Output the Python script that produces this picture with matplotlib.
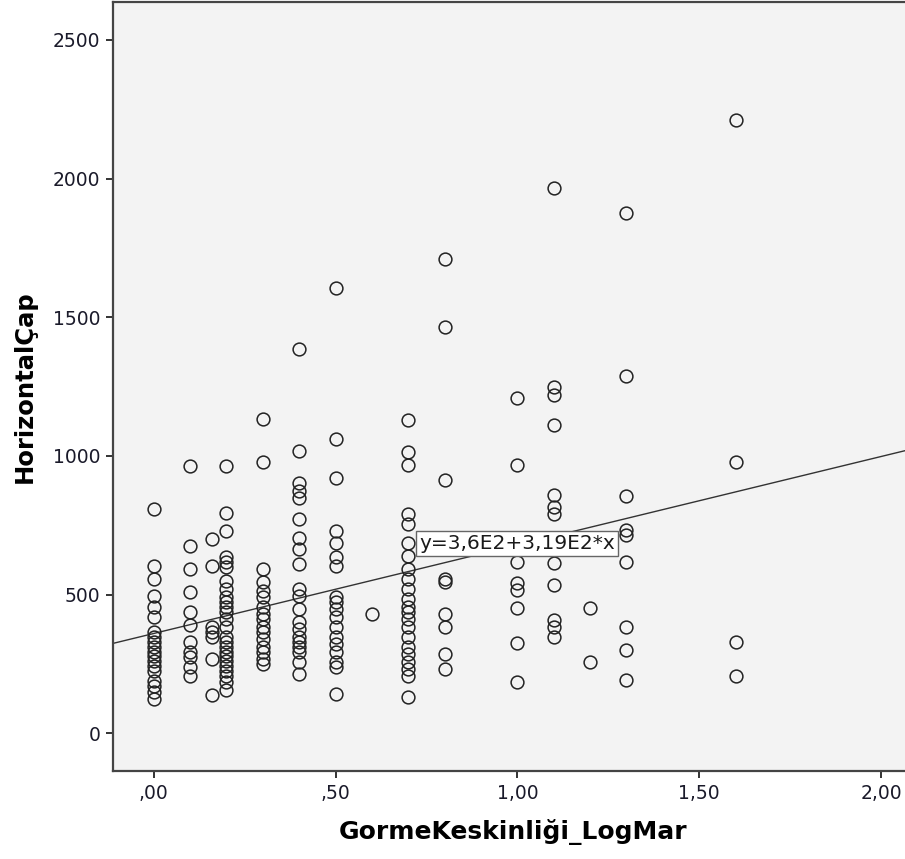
import numpy as np
import matplotlib.pyplot as plt

# HorizontalÇap values grouped by GormeKeskinliği_LogMar level
logmar_00 = [810, 602, 558, 494, 457, 421, 367, 349, 331, 313, 295, 277, 259, 241, 223, 187, 169, 148, 122]
logmar_10 = [965, 674, 591, 508, 436, 389, 328, 292, 274, 238, 205]
logmar_16 = [702, 602, 385, 367, 349, 267, 137]
logmar_20 = [963, 796, 731, 634, 616, 598, 548, 519, 490, 472, 454, 436, 411, 382, 349, 331, 313,
             295, 277, 259, 241, 223, 205, 184, 158]
logmar_30 = [1135, 980, 591, 544, 512, 490, 457, 429, 411, 385, 364, 339, 313, 292, 267, 249]
logmar_40 = [1387, 1019, 904, 872, 850, 771, 706, 663, 609, 519, 494, 447, 400, 375, 349, 331, 313,
             292, 256, 213]
logmar_50 = [1607, 1063, 922, 728, 688, 634, 602, 490, 472, 447, 421, 385, 349, 321, 292, 256, 238, 140]
logmar_60 = [429]
logmar_70 = [1128, 1016, 969, 789, 753, 688, 638, 591, 555, 519, 483, 457, 436, 411, 385, 349, 313,
             285, 256, 231, 205, 130]
logmar_80 = [1711, 1466, 915, 555, 544, 429, 382, 285, 231]
logmar_100 = [1210, 968, 619, 541, 517, 451, 327, 186]
logmar_110 = [1967, 1249, 1220, 1112, 859, 816, 792, 613, 535, 409, 385, 349]
logmar_120 = [451, 258]
logmar_130 = [1877, 1288, 856, 733, 715, 618, 384, 300, 192]
logmar_160 = [2212, 977, 328, 207]

levels = [0.0, 0.1, 0.16, 0.2, 0.3, 0.4, 0.5, 0.6, 0.7, 0.8, 1.0, 1.1, 1.2, 1.3, 1.6]
groups = [logmar_00, logmar_10, logmar_16, logmar_20, logmar_30, logmar_40, logmar_50, logmar_60,
          logmar_70, logmar_80, logmar_100, logmar_110, logmar_120, logmar_130, logmar_160]

# fit line y = 3,6E2 + 3,19E2*x
intercept = 360
slope = 319

x = np.concatenate([[lv] * len(g) for lv, g in zip(levels, groups)])
y = np.concatenate(groups)

fig = plt.figure(figsize=(9.05, 8.59), dpi=100)
ax = fig.add_axes([0.1249, 0.1024, 0.8751 + 0.01, 0.8953])
ax.set_facecolor('#f3f3f3')

ax.plot(x, y, 'o', mfc='none', mec='#222222', mew=1.1, ms=9.2, zorder=3)

xlim = (-0.112, 2.091)
xs = np.array(xlim)
ax.plot(xs, intercept + slope * xs, color='#333333', lw=1.0, zorder=2)

ax.text(1.0, 686, 'y=3,6E2+3,19E2*x', ha='center', va='center', fontsize=14.5,
        color='#1a1a1a', zorder=5,
        bbox=dict(boxstyle='square,pad=0.15', fc='white', ec='#666666', lw=1.0))

ax.set_xlim(xlim)
ax.set_ylim(-136, 2637)

ax.set_xticks([0, 0.5, 1.0, 1.5, 2.0])
ax.set_xticklabels([',00', ',50', '1,00', '1,50', '2,00'])
ax.set_yticks([0, 500, 1000, 1500, 2000, 2500])
ax.set_yticklabels(['0', '500', '1000', '1500', '2000', '2500'])

for side in ['left', 'bottom', 'top']:
    ax.spines[side].set_color('#444444')
    ax.spines[side].set_linewidth(1.6)
ax.spines['right'].set_visible(False)

ax.tick_params(direction='out', length=5, width=1.4, color='#333333',
               labelsize=13.5, labelcolor='#1a1a2a', pad=4)

ax.set_xlabel('GormeKeskinliği_LogMar', fontsize=18, fontweight='bold', labelpad=12)
ax.set_ylabel('HorizontalÇap', fontsize=17.5, fontweight='bold', labelpad=12)

fig.savefig('out.png', dpi=100, facecolor='white')
